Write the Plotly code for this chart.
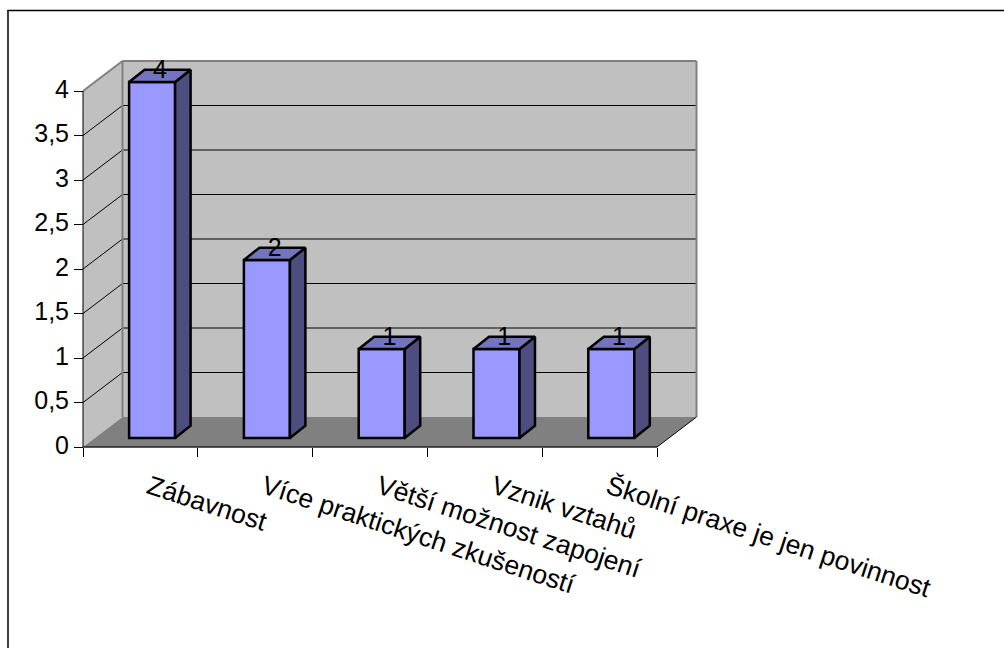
import plotly.graph_objects as go

categories = ["Zábavnost", "Více praktických zkušeností", "Větší možnost zapojení", "Vznik vztahů", "Školní praxe je jen povinnost"]
values = [4, 2, 1, 1, 1]
y_ticks = [0, 0.5, 1, 1.5, 2, 2.5, 3, 3.5, 4]
y_tick_labels = ["0", "0,5", "1", "1,5", "2", "2,5", "3", "3,5", "4"]

W, H = 1004, 648
X0_PX, X5_PX, Y0_PX, Y4_PX = 83, 657, 447, 91
UX = (X5_PX - X0_PX) / 5
UY = (Y0_PX - Y4_PX) / 4

WALL_DX, WALL_DY = 39.5 / UX, 30 / UY
BAR_W = 46 / UX
BAR_SHIFT_X, BAR_SHIFT_Y = 11.7 / UX, 9 / UY
BAR_DX, BAR_DY = 15.5 / UX, 12.3 / UY
N = len(categories)
TOP = y_ticks[-1]

FRONT, SIDE, TOPC = "#9999FF", "#4D4D80", "#7373BF"
WALL, FLOOR, EDGE = "#C0C0C0", "#808080", "#808080"
FONT = "Liberation Sans, Arial, sans-serif"
FS_Y, FS_X = 25, 26.5


def poly(xs, ys, color, lw=0, lc=None, layer="below"):
    path = "M " + " L ".join(f"{a},{b}" for a, b in zip(xs, ys)) + " Z"
    return dict(type="path", path=path, xref="x", yref="y", fillcolor=color, layer=layer,
                line=dict(width=lw, color=lc or color))


def seg(x0, y0, x1, y1, color="#000000", lw=1):
    return dict(type="line", x0=x0, y0=y0, x1=x1, y1=y1, xref="x", yref="y", layer="below",
                line=dict(color=color, width=lw))


shapes = [
    poly([WALL_DX, N + WALL_DX, N + WALL_DX, WALL_DX], [WALL_DY, WALL_DY, TOP + WALL_DY, TOP + WALL_DY], WALL),
    poly([0, WALL_DX, WALL_DX, 0], [0, WALL_DY, TOP + WALL_DY, TOP], WALL),
    poly([0, N, N + WALL_DX, WALL_DX], [0, 0, WALL_DY, WALL_DY], FLOOR),
]
for t in y_ticks[1:-1]:
    shapes.append(seg(WALL_DX, t + WALL_DY, N + WALL_DX, t + WALL_DY))
    shapes.append(seg(0, t, WALL_DX, t + WALL_DY))
shapes += [
    seg(WALL_DX, WALL_DY, WALL_DX, TOP + WALL_DY, EDGE, 2),
    seg(N + WALL_DX, WALL_DY, N + WALL_DX, TOP + WALL_DY, EDGE, 2),
    seg(WALL_DX, TOP + WALL_DY, N + WALL_DX, TOP + WALL_DY, EDGE, 2),
    seg(0, TOP, WALL_DX, TOP + WALL_DY, EDGE, 2),
    seg(0, 0, 0, TOP),
    seg(0, 0, N, 0, "#222222", 1.5),
    seg(N, 0, N + WALL_DX, WALL_DY),
    # chart frame, in paper coordinates
    dict(type="line", xref="paper", yref="paper", x0=8 / W, x1=8 / W, y0=0, y1=1 - 10 / H,
         line=dict(color="#000000", width=1.5)),
    dict(type="line", xref="paper", yref="paper", x0=7.5 / W, x1=1, y0=1 - 10.5 / H, y1=1 - 10.5 / H,
         line=dict(color="#000000", width=1.5)),
]

fig = go.Figure()
centers = [i + 0.5 + BAR_SHIFT_X for i in range(N)]
fig.add_trace(go.Bar(x=centers, y=values, base=BAR_SHIFT_Y, width=BAR_W,
                     marker=dict(color=FRONT, line=dict(color="#000000", width=2.5)),
                     hoverinfo="skip", showlegend=False))
for c, v in zip(centers, values):
    l, r = c - BAR_W / 2, c + BAR_W / 2
    b, t = BAR_SHIFT_Y, BAR_SHIFT_Y + v
    fig.add_trace(go.Scatter(x=[r, r + BAR_DX, r + BAR_DX, r, r], y=[b, b + BAR_DY, t + BAR_DY, t, b],
                             mode="lines", fill="toself", fillcolor=SIDE,
                             line=dict(color="#000000", width=2.5), hoverinfo="skip", showlegend=False))
    fig.add_trace(go.Scatter(x=[l, r, r + BAR_DX, l + BAR_DX, l], y=[t, t, t + BAR_DY, t + BAR_DY, t],
                             mode="lines", fill="toself", fillcolor=TOPC,
                             line=dict(color="#000000", width=2.5), hoverinfo="skip", showlegend=False))
fig.add_trace(go.Scatter(x=[c + BAR_DX / 2 for c in centers],
                         y=[v + BAR_SHIFT_Y + BAR_DY * 0.85 for v in values],
                         mode="text", text=[str(v) for v in values],
                         textfont=dict(family=FONT, size=FS_Y, color="#000000"),
                         textposition="middle center", hoverinfo="skip", showlegend=False))

fig.update_layout(
    width=W, height=H, margin=dict(l=0, r=0, t=0, b=0),
    paper_bgcolor="#FFFFFF", plot_bgcolor="rgba(0,0,0,0)",
    autosize=False, showlegend=False, barmode="overlay", shapes=shapes,
    font=dict(family=FONT, size=FS_Y, color="#000000"),
    xaxis=dict(range=[-X0_PX / UX, (W - X0_PX) / UX], domain=[0, 1], anchor="free",
               position=1 - Y0_PX / H, showgrid=False, zeroline=False, showline=False,
               tickmode="array", tickvals=[i + 0.5 for i in range(N)], ticktext=categories,
               ticks="", tickangle=18, ticklabelstandoff=19, ticklabelshift=9,
               tickfont=dict(family=FONT, size=FS_X, color="#000000"),
               minor=dict(tickmode="array", tickvals=list(range(N + 1)), ticks="outside",
                          ticklen=9, tickwidth=1, tickcolor="#000000", showgrid=False)),
    yaxis=dict(range=[-(H - Y0_PX) / UY, Y0_PX / UY], domain=[0, 1], anchor="free",
               position=X0_PX / W, showgrid=False, zeroline=False, showline=False,
               tickmode="array", tickvals=y_ticks, ticktext=y_tick_labels,
               ticks="outside", ticklen=9, tickwidth=1, tickcolor="#000000", ticklabelshift=-2,
               tickfont=dict(family=FONT, size=FS_Y, color="#000000")),
)
fig.write_html("out.html", config=dict(displayModeBar=False),
               post_script="document.body.style.margin='0';document.body.style.overflow='hidden';")
